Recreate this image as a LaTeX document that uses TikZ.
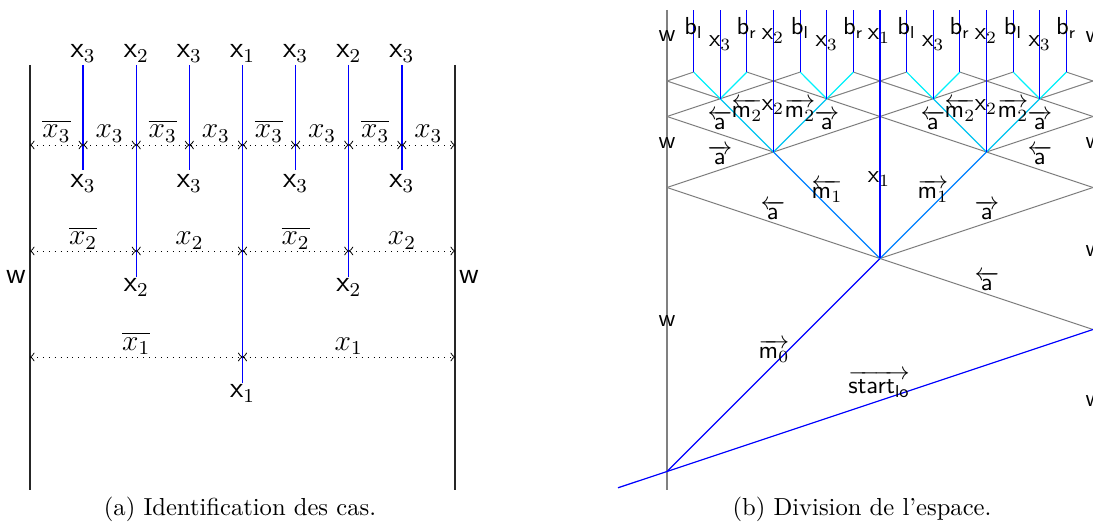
\documentclass[tikz,border=0pt]{standalone}
\usepackage{amsmath}
\definecolor{mone}{RGB}{0,128,255}
\definecolor{mtwo}{RGB}{0,195,240}
\definecolor{mthree}{RGB}{0,240,250}
\begin{document}
\begin{tikzpicture}[x=0.4065pt,y=-0.4065pt,
  wallL/.style={black!85,line width=0.5pt},
  sigL/.style={blue,line width=0.6pt},
  dotsL/.style={dotted,<->,>=to,line width=0.4pt},
  labL/.style={font=\large\sffamily,inner sep=0pt,anchor=base},
  labW/.style={font=\large\sffamily,inner sep=0pt},
  mlabL/.style={font=\large,inner sep=0pt,anchor=base},
  wallR/.style={gray,line width=0.8pt},
  aR/.style={gray,line width=0.4pt},
  sigR/.style={blue,line width=0.5pt},
  moneR/.style={mone,line width=0.45pt},
  mtwoR/.style={mtwo,line width=0.45pt},
  mthreeR/.style={mthree,line width=0.45pt},
  labR/.style={font=\sffamily,inner sep=0pt,anchor=base},
  labRW/.style={font=\sffamily,inner sep=0pt},
  capt/.style={font=\rmfamily,inner sep=0pt,anchor=base}]
\useasboundingbox (0,0) rectangle (1093,527);

% ================= (a) =================
\foreach \i in {0,...,8}{
  \coordinate (t-\i) at ({30+53.125*\i},65);
  \coordinate (d1-\i) at ({30+53.125*\i},145);
  \coordinate (d2-\i) at ({30+53.125*\i},251);
  \coordinate (d3-\i) at ({30+53.125*\i},357);
  \coordinate (e3-\i) at ({30+53.125*\i},170);
  \coordinate (e2-\i) at ({30+53.125*\i},277);
  \coordinate (e1-\i) at ({30+53.125*\i},383);
  \coordinate (bw-\i) at ({30+53.125*\i},490);
}
\draw[wallL] (t-0) -- (bw-0);
\draw[wallL] (t-8) -- (bw-8);
\foreach \i in {1,3,5,7}{ \draw[sigL] (t-\i) -- (e3-\i); }
\foreach \i in {2,6}{ \draw[sigL] (t-\i) -- (e2-\i); }
\draw[sigL] (t-4) -- (e1-4);

\foreach \i [evaluate=\i as \j using int(\i+1)] in {0,...,7}{
  \draw[dotsL] (d1-\i) -- (d1-\j);
}
\draw[dotsL] (d2-0) -- (d2-2);
\draw[dotsL] (d2-2) -- (d2-4);
\draw[dotsL] (d2-4) -- (d2-6);
\draw[dotsL] (d2-6) -- (d2-8);
\draw[dotsL] (d3-0) -- (d3-4);
\draw[dotsL] (d3-4) -- (d3-8);

% top labels
\foreach \i/\n in {1/3,2/2,3/3,4/1,5/3,6/2,7/3}{
  \node[labL] (lt\i) at ({30+53.125*\i},58) {$\mathsf{x}_\n$};
}
\foreach \i in {1,3,5,7}{
  \node[labL] (lb\i) at ({30+53.125*\i},188) {$\mathsf{x}_3$};
}
\node[labL] (lb2) at (136.25,292) {$\mathsf{x}_2$};
\node[labL] (lb6) at (348.75,292) {$\mathsf{x}_2$};
\node[labL] (lb4) at (242.5,398) {$\mathsf{x}_1$};

% dotted line labels
\foreach \i in {0,2,4,6}{
  \node[mlabL] (m3n\i) at ({56.5+53.125*\i},138) {$\overline{x_3}$};
  \node[mlabL] (m3p\i) at ({109.6+53.125*\i},138) {$x_3$};
}
\node[mlabL] (m2n0) at (83.1,245) {$\overline{x_2}$};
\node[mlabL] (m2p0) at (189.4,245) {$x_2$};
\node[mlabL] (m2n1) at (295.6,245) {$\overline{x_2}$};
\node[mlabL] (m2p1) at (401.9,245) {$x_2$};
\node[mlabL] (m1n) at (136.25,350.5) {$\overline{x_1}$};
\node[mlabL] (m1p) at (348.75,350.5) {$x_1$};

\node[labW] (wl) at (16,277) {w};
\node[labW] (wr) at (469,277) {w};

\node[capt] (capA) at (240,516) {(a) Identification des cas.};

% ================= (b) =================
\coordinate (Bl) at (618,487.8);
\coordinate (B) at (667,471.5);
\coordinate (WT) at (667,10);
\coordinate (WB) at (667,490);
\coordinate (R0) at (1093,329.5);
\coordinate (C) at (880,258.5);
\coordinate (L1) at (667,187.5);
\coordinate (R1) at (1093,187.5);
\coordinate (P1) at (773.5,152);
\coordinate (Q1) at (986.5,152);
\coordinate (L2) at (667,116.5);
\coordinate (M2) at (880,116.5);
\coordinate (R2) at (1093,116.5);
\foreach \k in {2,6,10,14}{ \coordinate (V\k) at ({667+26.625*\k},98.75); }
\foreach \k in {0,4,8,12,16}{ \coordinate (W\k) at ({667+26.625*\k},81); }
\foreach \k in {1,3,...,15}{ \coordinate (T\k) at ({667+26.625*\k},72.1); }
\foreach \k in {1,...,15}{ \coordinate (U\k) at ({667+26.625*\k},10); }

% grey a-signals
\draw[aR] (R0) -- (C);
\draw[aR] (L1) -- (C) -- (R1);
\draw[aR] (L1) -- (P1);
\draw[aR] (R1) -- (Q1);
\draw[aR] (L2) -- (P1) -- (M2) -- (Q1) -- (R2);
\draw[aR] (L2) -- (V2);
\draw[aR] (M2) -- (V6);
\draw[aR] (M2) -- (V10);
\draw[aR] (R2) -- (V14);
\draw[aR] (W0) -- (V2) -- (W4) -- (V6) -- (W8) -- (V10) -- (W12) -- (V14) -- (W16);
\draw[aR] (W0) -- (T1);
\draw[aR] (W4) -- (T3);
\draw[aR] (W4) -- (T5);
\draw[aR] (W8) -- (T7);
\draw[aR] (W8) -- (T9);
\draw[aR] (W12) -- (T11);
\draw[aR] (W12) -- (T13);
\draw[aR] (W16) -- (T15);

% wall
\draw[wallR] (WT) -- (WB);

% coloured signals
\draw[sigR] (Bl) -- (B) -- (R0);
\draw[sigR] (B) -- (C);
\draw[moneR] (C) -- (P1);
\draw[moneR] (C) -- (Q1);
\draw[mtwoR] (P1) -- (V2);
\draw[mtwoR] (P1) -- (V6);
\draw[mtwoR] (Q1) -- (V10);
\draw[mtwoR] (Q1) -- (V14);
\foreach \k/\l/\r in {2/1/3,6/5/7,10/9/11,14/13/15}{
  \draw[mthreeR] (V\k) -- (T\l);
  \draw[mthreeR] (V\k) -- (T\r);
  \draw[sigR] (V\k) -- (U\k);
}
\foreach \k in {1,3,...,15}{ \draw[sigR] (T\k) -- (U\k); }
\draw[sigR] (P1) -- (U4);
\draw[sigR] (Q1) -- (U12);
\draw[sigR] (C) -- (U8);

% top labels
\foreach \k in {1,5,9,13}{
  \node[labR] (bl\k) at ({667+26.625*\k},34.5) {$\mathsf{b}_\mathsf{l}$};
}
\foreach \k in {3,7,11,15}{
  \node[labR] (br\k) at ({667+26.625*\k},34.5) {$\mathsf{b}_\mathsf{r}$};
}
\foreach \k in {2,6,10,14}{
  \node[labR] (xt\k) at ({667+26.625*\k},46.5) {$\mathsf{x}_3$};
}
\node[labR] (xt4) at (773,40) {$\mathsf{x}_2$};
\node[labR] (xt12) at (986,40) {$\mathsf{x}_2$};
\node[labR] (xt8) at (879,40) {$\mathsf{x}_1$};

% middle labels, left group
\node[labR] (ml1) at (747,118) {$\overleftarrow{\mathsf{m}_2}$};
\node[labR] (xm1) at (773,111) {$\mathsf{x}_2$};
\node[labR] (mr1) at (800,118) {$\overrightarrow{\mathsf{m}_2}$};
\node[labR] (al1) at (720,130) {$\overleftarrow{\mathsf{a}}$};
\node[labR] (ar1) at (827,130) {$\overrightarrow{\mathsf{a}}$};
\node[labR] (ar0) at (720,165) {$\overrightarrow{\mathsf{a}}$};
% right group
\node[labR] (ml2) at (960,118) {$\overleftarrow{\mathsf{m}_2}$};
\node[labR] (xm2) at (986,111) {$\mathsf{x}_2$};
\node[labR] (mr2) at (1013,118) {$\overrightarrow{\mathsf{m}_2}$};
\node[labR] (al2) at (933,130) {$\overleftarrow{\mathsf{a}}$};
\node[labR] (ar2) at (1040,130) {$\overrightarrow{\mathsf{a}}$};
\node[labR] (al0) at (1040,165) {$\overleftarrow{\mathsf{a}}$};

\node[labR] (xmid) at (879,183) {$\mathsf{x}_1$};
\node[labR] (m1l) at (827,199) {$\overleftarrow{\mathsf{m}_1}$};
\node[labR] (m1r) at (933,199) {$\overrightarrow{\mathsf{m}_1}$};
\node[labR] (a1l) at (773,220) {$\overleftarrow{\mathsf{a}}$};
\node[labR] (a1r) at (987,220) {$\overrightarrow{\mathsf{a}}$};
\node[labR] (a0l) at (987,291) {$\overleftarrow{\mathsf{a}}$};
\node[labR] (m0) at (774,359) {$\overrightarrow{\mathsf{m}_0}$};
\node[labR] (st) at (879,394) {$\overrightarrow{\mathsf{start}_\mathsf{lo}}$};

% w labels
\node[labRW] (w1) at (667,36) {w};
\node[labRW] (w2) at (667,143) {w};
\node[labRW] (w3) at (667,321) {w};
\node[labRW] (w4) at (1094,37) {w};
\node[labRW] (w5) at (1094,143) {w};
\node[labRW] (w6) at (1094,251) {w};
\node[labRW] (w7) at (1094,401) {w};

\node[capt] (capB) at (862,516) {(b) Division de l'espace.};
\end{tikzpicture}
\end{document}
